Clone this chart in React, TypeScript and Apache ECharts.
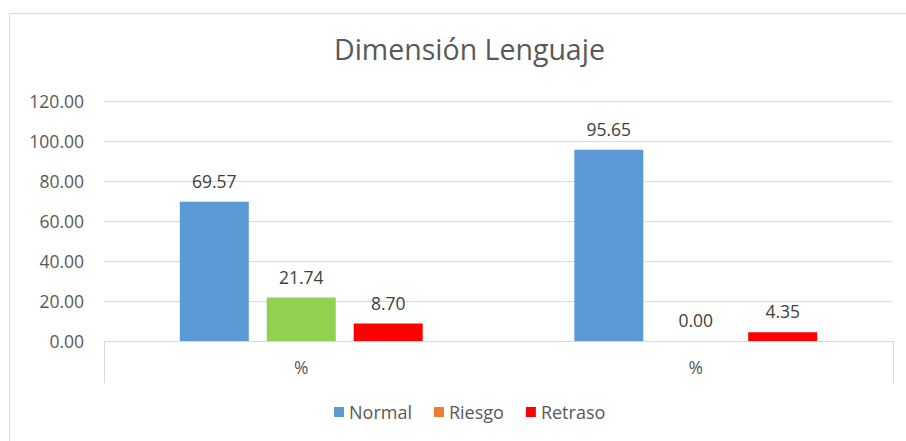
import React, { useEffect, useRef } from "react";
import * as echarts from "echarts";

const categories = ["%", "%"];
const normalValues = [69.57, 95.65];
const riesgoValues = [21.74, 0.0];
const retrasoValues = [8.7, 4.35];
const yTicks = [0, 20, 40, 60, 80, 100, 120];

const FONT = "'Open Sans', 'Noto Sans', sans-serif";

export default function App() {
  const ref = useRef<HTMLDivElement>(null);
  useEffect(() => {
    document.body.style.margin = "0";
    const chart = echarts.init(ref.current!, null, { renderer: "svg" });
    const label = {
      show: true,
      position: "top" as const,
      distance: 12,
      color: "#404040",
      fontSize: 17.5,
      fontFamily: FONT,
      formatter: (p: any) => Number(p.value).toFixed(2),
    };
    chart.setOption({
      animation: false,
      backgroundColor: "#ffffff",
      textStyle: { fontFamily: FONT },
      title: {
        text: "Dimensión Lenguaje",
        left: 329,
        top: 29,
        textStyle: { fontFamily: FONT, fontSize: 28.5, fontWeight: "normal", color: "#595959" },
      },
      graphic: [
        {
          type: "polyline",
          shape: { points: [[9.5, 441], [9.5, 13.5], [906, 13.5]] },
          style: { stroke: "#d9d9d9", lineWidth: 1, fill: "none" },
          silent: true,
        },
      ],
      legend: {
        bottom: 15,
        left: 329,
        itemWidth: 10,
        itemHeight: 10,
        itemGap: 22,
        icon: "rect",
        textStyle: { fontFamily: FONT, fontSize: 18, color: "#595959" },
        data: ["Normal", "Riesgo", "Retraso"],
      },
      grid: { left: 104, right: 13, top: 101, bottom: 100, containLabel: false },
      xAxis: {
        type: "category",
        data: categories,
        axisLine: { lineStyle: { color: "#d9d9d9" } },
        axisTick: {
          show: true,
          length: 42,
          interval: (i: number) => i !== 1,
          lineStyle: { color: "#d9d9d9" },
        },
        axisLabel: { color: "#595959", fontSize: 17.5, fontFamily: FONT, margin: 17 },
      },
      yAxis: {
        type: "value",
        min: yTicks[0],
        max: yTicks[yTicks.length - 1],
        interval: 20,
        axisLine: { show: false },
        axisTick: { show: false },
        splitLine: { lineStyle: { color: "#d9d9d9" } },
        axisLabel: {
          color: "#595959",
          fontSize: 17.5,
          fontFamily: FONT,
          margin: 20,
          formatter: (v: number) => v.toFixed(2),
        },
      },
      series: [
        {
          name: "Normal",
          type: "bar",
          data: normalValues,
          barWidth: 69,
          barGap: "26%",
          itemStyle: { color: "#5B9BD5" },
          label,
        },
        {
          name: "Riesgo",
          type: "bar",
          data: riesgoValues.map((v) => ({ value: v, itemStyle: { color: "#92D050" } })),
          barWidth: 69,
          barGap: "26%",
          itemStyle: { color: "#ED7D31" },
          label,
        },
        {
          name: "Retraso",
          type: "bar",
          data: retrasoValues,
          barWidth: 69,
          barGap: "26%",
          itemStyle: { color: "#FF0000" },
          label,
        },
      ],
    });
    return () => chart.dispose();
  }, []);
  return <div ref={ref} style={{ width: 906, height: 441 }} />;
}
